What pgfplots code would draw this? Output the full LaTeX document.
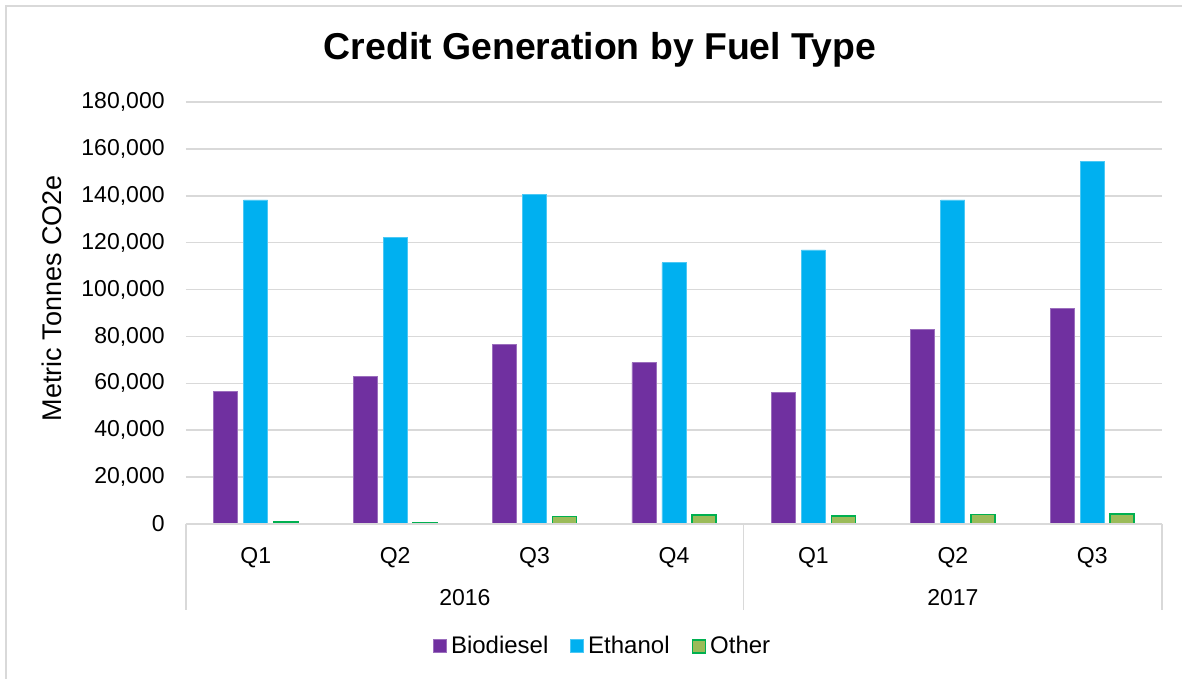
\documentclass[border=0pt]{standalone}
\usepackage{fontspec}
\setmainfont{Liberation Sans}
\usepackage{pgfplots}
\pgfplotsset{compat=1.18}
\definecolor{bio}{HTML}{7030A0}
\definecolor{eth}{HTML}{00B0F0}
\definecolor{othf}{HTML}{9BBB59}
\definecolor{othd}{HTML}{00B050}
\definecolor{gridc}{HTML}{D9D9D9}
\begin{document}
\begin{tikzpicture}
\useasboundingbox (-93pt,-77.5pt) rectangle (498pt,262pt);
\fill[white] (-93pt,-77.5pt) rectangle (498pt,262pt);
\draw[gridc, line width=1pt] (-90pt,-77.5pt) -- (-90pt,259pt) -- (498pt,259pt);
\begin{axis}[
  at={(0,0)}, anchor=south west,
  scale only axis, width=488pt, height=211pt,
  ybar=3pt, bar width=12pt,
  xmin=-0.5, xmax=6.5, ymin=0, ymax=180000,
  xtick={0,1,2,3,4,5,6},
  xticklabels={Q1,Q2,Q3,Q4,Q1,Q2,Q3},
  ytick={0,20000,...,180000},
  scaled y ticks=false,
  /pgf/number format/.cd, fixed, 1000 sep={,}, assume math mode=true,
  /pgfplots/.cd,
  axis line style={draw=none},
  tick style={draw=none},
  ymajorgrids, grid style={gridc, line width=0.75pt},
  ticklabel style={font=\fontsize{11.5}{13}\selectfont},
  yticklabel style={inner sep=0pt, anchor=east, xshift=-10.5pt},
  xticklabel style={inner sep=0pt, anchor=center, yshift=-12.5pt},
  clip=false,
  legend columns=3,
  legend style={at={(0.428,-0.29)}, anchor=center, draw=none, fill=none,
    font=\fontsize{12}{14}\selectfont,
    /tikz/every even column/.append style={column sep=9pt},
    nodes={inner xsep=2pt, inner ysep=0pt}},
  legend image code/.code={\draw[#1] (0pt,-3.25pt) rectangle (6.5pt,3.25pt);},
]
\addplot[fill=bio, draw=bio!70!white, line width=0.4pt] coordinates {(0,56500) (1,63100) (2,76600) (3,68800) (4,56200) (5,82900) (6,91800)};
\addplot[fill=eth, draw=eth!70!white, line width=0.4pt] coordinates {(0,138200) (1,122400) (2,140700) (3,111400) (4,116900) (5,138200) (6,154500)};
\addplot[fill=othf, draw=othd, line width=0.8pt] coordinates {(0,800) (1,700) (2,3200) (3,3900) (4,3300) (5,4000) (6,4200)};
\legend{Biodiesel, Ethanol, Other}
\draw[gridc, line width=0.75pt] (axis cs:-0.5,0) -- (axis cs:6.5,0);
\draw[gridc, line width=0.75pt] (axis cs:-0.5,0) -- ++(0pt,-43pt);
\draw[gridc, line width=0.75pt] (axis cs:3.5,0) -- ++(0pt,-43pt);
\draw[gridc, line width=0.75pt] (axis cs:6.5,0) -- ++(0pt,-43pt);
\node[font=\fontsize{11.5}{13}\selectfont] at ([yshift=-37pt]axis cs:1.5,0) {2016};
\node[font=\fontsize{11.5}{13}\selectfont] at ([yshift=-37pt]axis cs:5,0) {2017};
\end{axis}
\node[font=\fontsize{18.7}{22}\selectfont\bfseries] at (207pt,237pt) {Credit Generation by Fuel Type};
\node[font=\fontsize{13.5}{16}\selectfont, rotate=90] at (-67pt,113pt) {Metric Tonnes CO2e};
\end{tikzpicture}
\end{document}
